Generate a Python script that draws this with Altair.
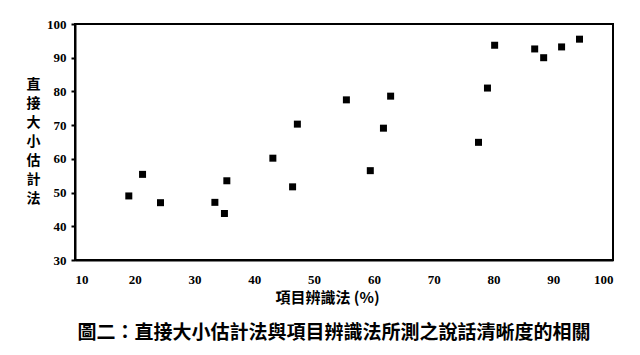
import altair as alt
import pandas as pd

x_vals = [19.0, 21.3, 24.3, 33.4, 35.0, 35.4, 43.1, 46.4, 47.2, 55.4,
          59.4, 61.6, 62.8, 77.5, 79.0, 80.2, 86.9, 88.4, 91.4, 94.4]
y_vals = [49.0, 55.4, 47.0, 47.1, 43.8, 53.5, 60.2, 51.7, 70.3, 77.5,
          56.5, 69.1, 78.6, 64.9, 81.0, 93.7, 92.6, 90.0, 93.2, 95.5]
x_ticks = [10, 20, 30, 40, 50, 60, 70, 80, 90, 100]
y_ticks = [30, 40, 50, 60, 70, 80, 90, 100]
x_title = "項目辨識法 (%)"
y_title = list("直接大小估計法")
caption = "圖二：直接大小估計法與項目辨識法所測之說話清晰度的相關"

df = pd.DataFrame({"x": x_vals, "y": y_vals})

CJK = "Noto Sans CJK TC"
NUM = "Liberation Serif"

chart = alt.Chart(df).mark_square(size=49, color="black", opacity=1).encode(
    x=alt.X("x:Q", scale=alt.Scale(domain=[10, 100], nice=False),
            axis=alt.Axis(values=x_ticks, title=x_title, grid=False, ticks=False,
                          domainColor="black", domainWidth=2,
                          labelFont=NUM, labelFontWeight="bold", labelFontSize=13,
                          labelColor="black", labelPadding=13,
                          titleFont=CJK, titleFontWeight="bold", titleFontSize=15,
                          titleColor="black", titleX=252, titleY=30)),
    y=alt.Y("y:Q", scale=alt.Scale(domain=[30, 100], nice=False),
            axis=alt.Axis(values=y_ticks, title=y_title, grid=False, ticks=True,
                          tickSize=4, tickWidth=2, tickColor="black",
                          domainColor="black", domainWidth=2,
                          labelFont=NUM, labelFontWeight="bold", labelFontSize=13,
                          labelColor="black", labelPadding=5,
                          titleFont=CJK, titleFontWeight="bold", titleFontSize=14,
                          titleColor="black", titleAngle=0, titleLineHeight=19,
                          titleX=-42, titleY=60, titleBaseline="middle",
                          titleAlign="center")),
).properties(
    width=538, height=236,
    title=alt.TitleParams(caption, orient="bottom", font=CJK, fontWeight="bold",
                          fontSize=19, color="black", offset=19, anchor="middle",
                          dx=-10),
    autosize=alt.AutoSizeParams(type="none"),
    padding={"left": 75, "top": 24, "right": 27, "bottom": 95},
).configure(
    background="white",
    view=alt.ViewConfig(stroke="black", strokeWidth=2),
)

chart.save("out.html", embed_options={"renderer": "svg", "actions": False})
